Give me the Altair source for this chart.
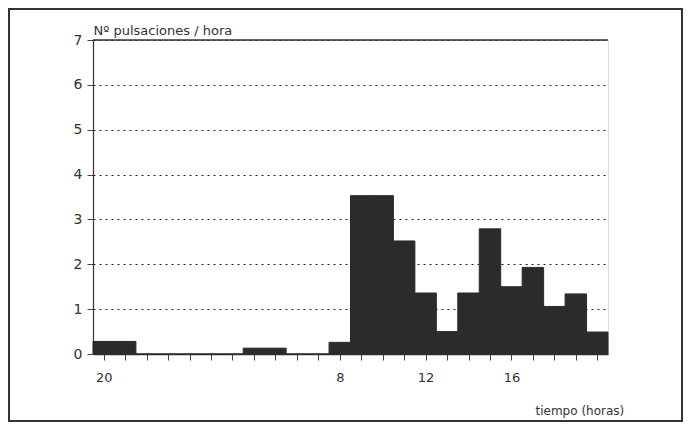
import altair as alt
import pandas as pd

# hourly bins (index 0 = 20 h ... index 23 = 19 h of next day)
bin_index = list(range(24))
pulsaciones = [0.28, 0.28, 0, 0, 0, 0, 0, 0.13, 0.13, 0, 0,
               0.26, 3.53, 3.53, 2.52, 1.36, 0.5, 1.36, 2.79, 1.5,
               1.93, 1.06, 1.34, 0.49]
tick_labels = ["20", "", "", "", "", "", "", "", "", "", "", "8",
               "", "", "", "12", "", "", "", "16", "", "", "", ""]
y_ticks = [0, 1, 2, 3, 4, 5, 6, 7]

df = pd.DataFrame({"i": bin_index, "v": pulsaciones})
df["x0"] = df["i"] - 0.5
df["x1"] = df["i"] + 0.5

label_expr = "[" + ",".join("'%s'" % t for t in tick_labels) + "][datum.value]"

FONT = "DejaVu Sans"
INK = "#2b2b2b"

bars = alt.Chart(df).mark_rect(color=INK, stroke=INK, strokeWidth=1).encode(
    x=alt.X("x0:Q",
            scale=alt.Scale(domain=[-0.5, 23.5], nice=False, zero=False),
            axis=alt.Axis(values=bin_index, labelExpr=label_expr,
                          title="tiempo (horas)", titleAngle=0,
                          titleX=442, titleY=60, titleAlign="left",
                          titleBaseline="alphabetic",
                          titleFont=FONT, titleFontSize=12,
                          titleFontWeight="normal", titleColor="#333",
                          labelFont=FONT, labelFontSize=13, labelColor="#333",
                          labelPadding=11, tickSize=6, tickColor="#444",
                          domainColor="#333", domainWidth=1.5,
                          grid=False, labelFlush=False)),
    x2="x1:Q",
    y=alt.Y("v:Q",
            scale=alt.Scale(domain=[0, 7], nice=False),
            axis=alt.Axis(values=y_ticks,
                          title="Nº pulsaciones / hora", titleAngle=0,
                          titleX=0, titleY=-6, titleAlign="left",
                          titleBaseline="alphabetic",
                          titleFont=FONT, titleFontSize=13,
                          titleFontWeight="normal", titleColor="#333",
                          labelFont=FONT, labelFontSize=14, labelColor="#333",
                          labelPadding=5, tickSize=6, tickColor="#444",
                          domainColor="#333", domainWidth=1.2,
                          grid=True, gridColor="#222", gridDash=[2, 4],
                          gridWidth=1)),
    y2=alt.datum(0),
)

top_line = alt.Chart(pd.DataFrame({"a": [0]})).mark_rule(
    color="#333", strokeWidth=1.5
).encode(y=alt.datum(7))

frame = alt.Chart(pd.DataFrame({"a": [0]})).mark_rect(
    fill=None, stroke="#333", strokeWidth=2
).encode(
    x=alt.value(-84), x2=alt.value(589),
    y=alt.value(-31), y2=alt.value(381),
)

chart = alt.layer(bars, top_line, frame).properties(
    width=515, height=314,
    autosize=alt.AutoSizeParams(type="none"),
    padding={"left": 85, "top": 32, "right": 75, "bottom": 68},
).configure_view(stroke="#333", strokeWidth=1.2).configure(background="white")

chart.save("out.html", embed_options={"renderer": "svg", "actions": False})
